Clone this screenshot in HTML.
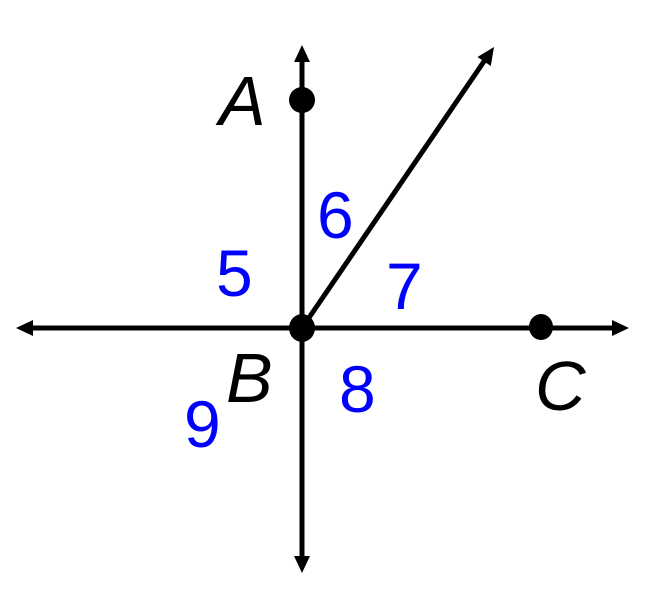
<!DOCTYPE html>
<html><head><meta charset="utf-8"><style>
html,body{margin:0;padding:0;background:#fff;}
svg{display:block;}
text{font-family:"Liberation Sans",Arial,sans-serif;}
</style></head><body>
<svg width="666" height="592" viewBox="0 0 666 592" xmlns="http://www.w3.org/2000/svg">
<g stroke="#000" stroke-width="5" fill="none">
<line x1="30" y1="328" x2="616" y2="328"/>
<line x1="302" y1="58" x2="302" y2="560"/>
<line x1="302" y1="328" x2="487" y2="57"/>
</g>
<g fill="#000">
<polygon points="16,328 33,320 33,336"/>
<polygon points="629,328 612,320 612,336"/>
<polygon points="302,45 294,62 310,62"/>
<polygon points="302,573 294,556 310,556"/>
<polygon points="494,47 477.5,57 490.8,66"/>
<ellipse cx="302" cy="328" rx="13" ry="14"/>
<circle cx="302" cy="100" r="13"/>
<ellipse cx="541" cy="327" rx="12" ry="13"/>
</g>
<g font-size="70" font-style="italic" fill="#000">
<text x="219" y="125">A</text>
<text x="226" y="402">B</text>
<text x="535" y="410">C</text>
</g>
<g font-size="66" fill="#0000ff">
<text x="317" y="238">6</text>
<text x="216" y="296">5</text>
<text x="386" y="309">7</text>
<text x="339" y="412">8</text>
<text x="184" y="447">9</text>
</g>
</svg>
</body></html>
